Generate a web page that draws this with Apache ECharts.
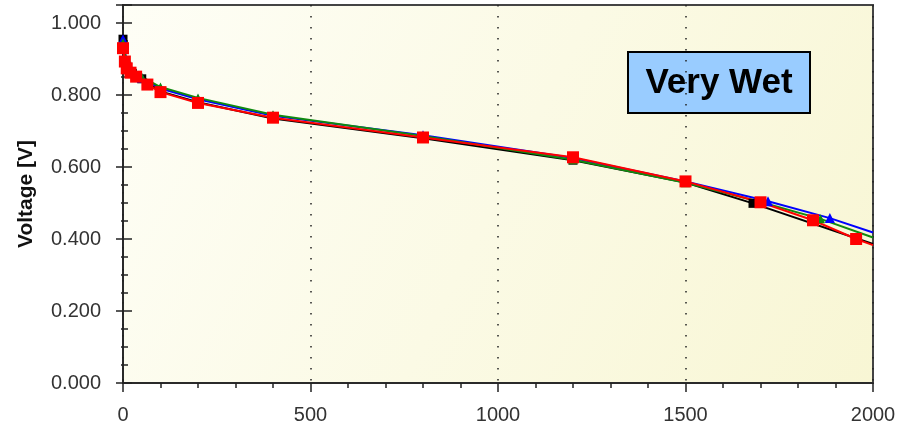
<!DOCTYPE html>
<html>
<head>
<meta charset="utf-8">
<script src="https://cdn.jsdelivr.net/npm/echarts@6/dist/echarts.min.js"></script>
<style>
  html, body { margin: 0; padding: 0; background: #fff; }
  #chart { width: 904px; height: 432px; }
</style>
</head>
<body>
<div id="chart"></div>
<script>
// current density vs voltage, "very wet" condition
var xTicks = [0, 500, 1000, 1500, 2000];
var yTicks = [0, 0.2, 0.4, 0.6, 0.8, 1.0];

var blackPts = [[0, 0.955], [10, 0.880], [25, 0.860], [50, 0.845], [100, 0.810], [200, 0.780],
  [400, 0.735], [800, 0.680], [1200, 0.619], [1500, 0.557], [1680, 0.499], [2000, 0.386]];
var bluePts = [[0, 0.955], [10, 0.890], [25, 0.865], [50, 0.848], [100, 0.818], [200, 0.788],
  [400, 0.742], [800, 0.688], [1200, 0.625], [1500, 0.560], [1720, 0.505], [1885, 0.458], [2000, 0.418]];
var greenPts = [[0, 0.945], [10, 0.885], [25, 0.865], [50, 0.850], [100, 0.822], [200, 0.792],
  [400, 0.745], [800, 0.686], [1200, 0.620], [1500, 0.556], [1700, 0.503], [1860, 0.456], [2000, 0.404]];
var redPts = [[0, 0.930], [5, 0.893], [10, 0.874], [20, 0.862], [35, 0.851], [65, 0.829], [100, 0.808],
  [200, 0.778], [400, 0.737], [800, 0.682], [1200, 0.627], [1500, 0.560], [1700, 0.502], [1840, 0.452],
  [1955, 0.400], [2000, 0.383]];

var labelFont = '"Liberation Sans", Arial, sans-serif';

// last point of each curve is only the line end, no marker
function pts(arr) {
  return arr.map(function (p, i) {
    if (i === arr.length - 1) return { value: p, symbol: 'none' };
    return p;
  });
}

function mkSeries(name, data, color, symbol, size) {
  return {
    name: name,
    type: 'line',
    data: pts(data),
    symbol: symbol,
    symbolSize: size,
    showSymbol: true,
    lineStyle: { color: color, width: 2 },
    itemStyle: { color: color },
    animation: false
  };
}

var chart = echarts.init(document.getElementById('chart'));

var option = {
  backgroundColor: '#ffffff',
  grid: {
    left: 123, right: 31, top: 5, bottom: 49,
    show: true,
    borderColor: '#444',
    borderWidth: 2,
    backgroundColor: {
      type: 'linear', x: 0, y: 0, x2: 1, y2: 1,
      colorStops: [{ offset: 0, color: '#fefef6' }, { offset: 1, color: '#f8f6d4' }]
    }
  },
  xAxis: [{
    type: 'value',
    min: xTicks[0], max: xTicks[xTicks.length - 1], interval: 500,
    axisLine: { lineStyle: { color: '#222', width: 1.5 } },
    axisTick: { show: true, length: 9, lineStyle: { color: '#222', width: 1.5 } },
    minorTick: { show: true, splitNumber: 5, length: 5, lineStyle: { color: '#222', width: 1.5 } },
    axisLabel: {
      fontSize: 20, color: '#333', fontFamily: labelFont, margin: 22,
      formatter: function (v) { return String(v); }
    },
    splitLine: { show: true, lineStyle: { color: '#222', width: 1.5, type: [1.5, 9.5] } }
  }, {
    // top frame ticks
    type: 'value', position: 'top',
    min: 0, max: 2000, interval: 500,
    axisLine: { show: false },
    axisTick: { show: true, inside: true, length: 5, lineStyle: { color: '#222', width: 1.5 } },
    minorTick: { show: true, splitNumber: 5, length: 5, lineStyle: { color: '#222', width: 1.5 } },
    axisLabel: { show: false },
    splitLine: { show: false }
  }],
  yAxis: [{
    type: 'value',
    min: 0, max: 1.05, interval: 0.2,
    name: 'Voltage [V]',
    nameLocation: 'middle',
    nameGap: 86,
    nameTextStyle: { fontSize: 21, fontWeight: 'bold', color: '#111', fontFamily: labelFont },
    axisLine: { show: true, lineStyle: { color: '#222', width: 1.5 } },
    axisTick: { show: true, length: 7, lineStyle: { color: '#222', width: 1.5 } },
    minorTick: { show: true, splitNumber: 4, length: 2, lineStyle: { color: '#222', width: 1.5 } },
    axisLabel: {
      fontSize: 20, color: '#333', fontFamily: labelFont, margin: 22,
      showMaxLabel: false,
      formatter: function (v) { return v.toFixed(3); }
    },
    splitLine: { show: false }
  }, {
    // inner half of the crossing ticks
    type: 'value', position: 'left',
    min: 0, max: 1.05, interval: 0.2,
    axisLine: { show: false },
    axisTick: { show: true, inside: true, length: 9, lineStyle: { color: '#222', width: 1.5 } },
    minorTick: { show: true, splitNumber: 4, length: 5, lineStyle: { color: '#222', width: 1.5 } },
    axisLabel: { show: false },
    splitLine: { show: false }
  }],
  graphic: [{
    type: 'group',
    left: 627, top: 51,
    children: [{
      type: 'rect',
      shape: { x: 0, y: 0, width: 182, height: 61 },
      style: { fill: '#99ccff', stroke: '#000', lineWidth: 2 }
    }, {
      type: 'text',
      x: 91, y: 31,
      style: {
        text: 'Very Wet', fill: '#000', font: 'bold 35px "Liberation Sans", Arial, sans-serif',
        textAlign: 'center', textVerticalAlign: 'middle'
      }
    }]
  }],
  series: [
    mkSeries('black', blackPts, '#000000', 'rect', 9),
    mkSeries('blue', bluePts, '#0000ff', 'triangle', 10),
    mkSeries('green', greenPts, '#108a10', 'triangle', 9),
    mkSeries('red', redPts, '#ff0000', 'rect', 12)
  ]
};

chart.setOption(option);
</script>
</body>
</html>
